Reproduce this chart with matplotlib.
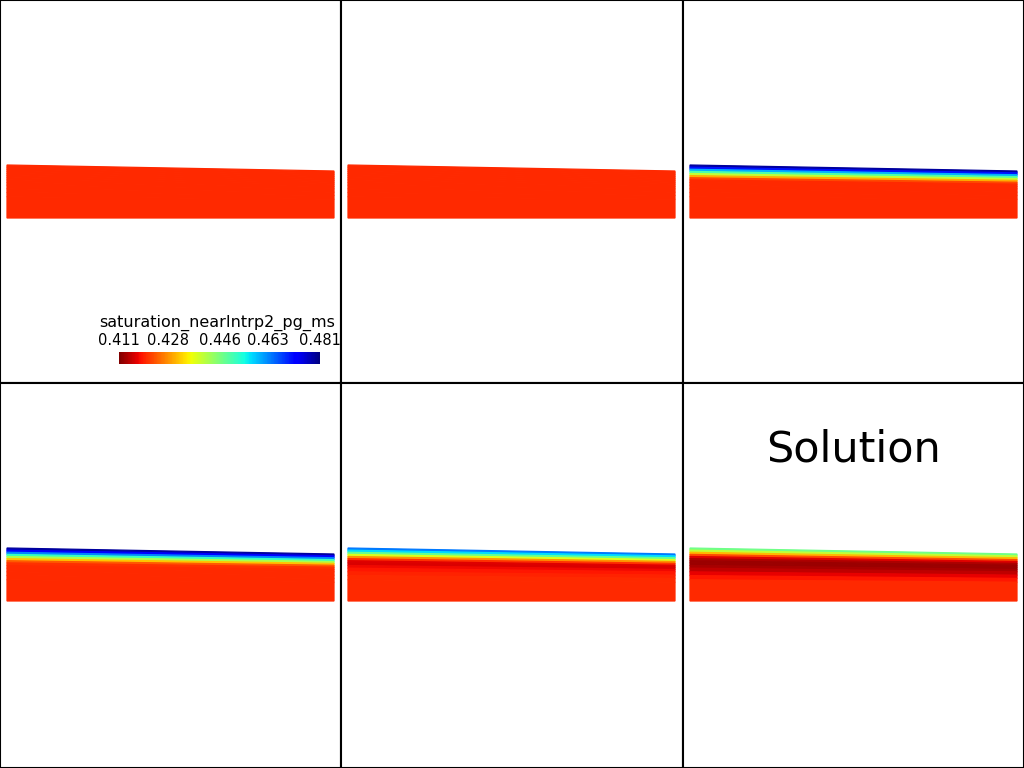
import numpy as np
import matplotlib
matplotlib.use("Agg")
import matplotlib.pyplot as plt
from matplotlib.colors import Normalize
from matplotlib.cm import ScalarMappable

# saturation profiles, top of layer -> bottom, one value per depth layer
depth_edges = [0, 0.04, 0.08, 0.12, 0.16, 0.20, 0.24, 0.28, 0.33, 0.38, 0.45, 0.52, 0.60, 1.0]

sat_step1 = [0.4203] * 13
sat_step2 = [0.4203] * 13
sat_step3 = [0.479, 0.471, 0.460, 0.450, 0.440, 0.430, 0.4225, 0.4205, 0.4203, 0.4203, 0.4203, 0.4203, 0.4203]
sat_step4 = [0.479, 0.472, 0.463, 0.452, 0.442, 0.432, 0.424, 0.421, 0.4203, 0.4203, 0.4203, 0.4203, 0.4203]
sat_step5 = [0.464, 0.457, 0.448, 0.438, 0.428, 0.421, 0.417, 0.4165, 0.418, 0.419, 0.4198, 0.4203, 0.4203]
sat_solution = [0.447, 0.440, 0.431, 0.423, 0.417, 0.414, 0.4128, 0.4128, 0.4135, 0.415, 0.4175, 0.419, 0.4203]

panels = [sat_step1, sat_step2, sat_step3, sat_step4, sat_step5, sat_solution]

vmin, vmax = 0.411, 0.481
cbar_ticks = [0.411, 0.428, 0.446, 0.463, 0.481]
cbar_title = "saturation_nearIntrp2_pg_ms"

# domain geometry: length, thickness at left/right
L = 327.0
h_left, h_right = 53.0, 47.0

fig = plt.figure(figsize=(10.24, 7.68), dpi=100)
W, H = 1024.0, 768.0
cols = [0, 341, 683, 1024]
rows = [0, 383, 768]

cmap = plt.get_cmap("jet_r")
norm = Normalize(vmin=vmin, vmax=vmax)

for i, sat in enumerate(panels):
    r, c = divmod(i, 3)
    x0, x1 = cols[c], cols[c + 1]
    y0, y1 = rows[r], rows[r + 1]
    ax = fig.add_axes([x0 / W, 1 - y1 / H, (x1 - x0) / W, (y1 - y0) / H])
    pw, ph = x1 - x0, y1 - y0
    # domain left edge 7px in, bottom 218px down from panel top
    ax.set_xlim(-7, pw - 7)
    ax.set_ylim(218 - ph, 218)
    for k, v in enumerate(sat):
        fa, fb = depth_edges[k], depth_edges[k + 1]
        xs = [0, L, L, 0]
        zs = [h_left * (1 - fa), h_right * (1 - fa), h_right * (1 - fb), h_left * (1 - fb)]
        ax.fill(xs, zs, color=cmap(norm(v)), lw=0.9, ec=cmap(norm(v)), joinstyle="miter")
    ax.set_xticks([])
    ax.set_yticks([])
    for s in ax.spines.values():
        s.set_linewidth(1.5)
        s.set_color("black")
        s.set_zorder(5)
    if i == 5:
        ax.text(0.5, 1 - (450 - 383) / 385.0, "Solution", transform=ax.transAxes,
                ha="center", va="center", fontsize=31, color="black")

# scalar bar inside first panel
cax = fig.add_axes([119 / W, 1 - 364 / H, 201 / W, 12 / H])
cb = fig.colorbar(ScalarMappable(norm=norm, cmap=cmap), cax=cax, orientation="horizontal")
cb.outline.set_visible(False)
cax.xaxis.set_ticks_position("top")
cax.set_xticks(cbar_ticks)
cax.set_xticklabels([f"{t:.3f}" for t in cbar_ticks])
cax.tick_params(axis="x", length=0, pad=3, labelsize=10.5)
fig.text(217 / W, 1 - 327 / H, cbar_title, ha="center", va="baseline", fontsize=11.5)

fig.savefig("out.png", dpi=100)
